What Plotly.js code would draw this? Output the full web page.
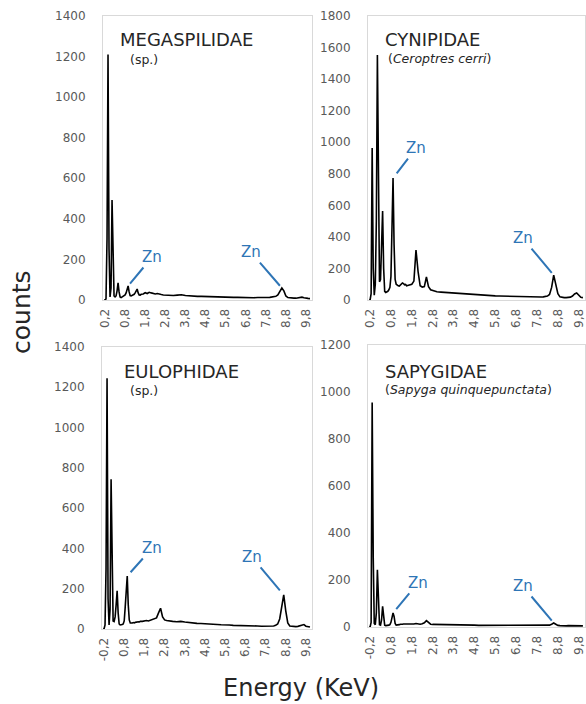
<!DOCTYPE html>
<html>
<head>
<meta charset="utf-8">
<script src="https://cdn.plot.ly/plotly-3.0.1.min.js"></script>
<style>
  html, body { margin: 0; padding: 0; background: #ffffff; }
  #chart { width: 586px; height: 704px; }
</style>
</head>
<body>
<div id="chart"></div>
<script>
// Energy channels (keV) shared by the four EDX spectra
const energyKeV = [
  -0.25, -0.2, -0.15, -0.1, -0.05, 0, 0.05, 0.1, 0.15, 0.2,
  0.25, 0.3, 0.35, 0.4, 0.45, 0.5, 0.55, 0.6, 0.65, 0.7,
  0.75, 0.8, 0.85, 0.9, 0.95, 1, 1.05, 1.1, 1.15, 1.2,
  1.25, 1.3, 1.35, 1.4, 1.45, 1.5, 1.55, 1.6,
  1.7, 1.8, 1.9, 2, 2.1, 2.2, 2.3, 2.4, 2.5, 2.6, 2.7, 2.8, 2.9, 3,
  3.2, 3.4, 3.6, 3.8, 4, 4.2, 4.4, 4.6, 4.8, 5, 5.2, 5.4, 5.6, 5.8, 6, 6.2, 6.4, 6.6, 6.8, 7, 7.2, 7.4, 7.6, 7.8, 8,
  8.1, 8.2, 8.3, 8.4, 8.5, 8.6, 8.7, 8.8, 8.9, 9, 9.1, 9.2, 9.3, 9.4, 9.5, 9.6, 9.7, 9.8, 9.9, 10
];

// Counts per channel
const megaspilidaeCounts = [
  0, 0, 5, 300, 1210, 250, 15, 60, 493, 260,
  20, 15, 20, 45, 84, 40, 15, 12, 15, 18,
  20, 25, 35, 55, 69, 40, 22, 20, 22, 25,
  28, 35, 50, 54, 35, 25, 24, 28,
  30, 36, 32, 38, 35, 33, 30, 32, 28, 27, 25, 24, 25, 23,
  22, 24, 26, 22, 20, 19, 18, 18, 17, 16, 16, 15, 15, 14, 14, 13, 13, 12, 12, 12, 11, 12, 11, 12, 13,
  14, 15, 18, 25, 42, 59, 45, 20, 12, 10, 10, 9, 9, 10, 12, 14, 11, 8, 8, 7
];
const cynipidaeCounts = [
  0, 0, 40, 963, 200, 30, 100, 500, 1553, 600,
  115, 130, 350, 564, 200, 55, 48, 50, 55, 65,
  80, 150, 450, 773, 350, 130, 100, 92, 90, 88,
  95, 100, 108, 104, 96, 98, 90, 92,
  95, 100, 120, 317, 180, 90, 82, 85, 146, 85, 65, 60, 56, 52,
  50, 48, 45, 42, 40, 38, 36, 35, 33, 30, 30, 28, 27, 26, 25, 24, 23, 22, 22, 21, 20, 20, 19, 19, 19,
  20, 22, 25, 35, 80, 158, 100, 40, 20, 16, 15, 15, 16, 18, 25, 38, 44, 28, 17, 15
];
const eulophidaeCounts = [
  0, 0, 20, 300, 1245, 150, 20, 100, 743, 250,
  40, 37, 60, 120, 190, 80, 25, 20, 20, 22,
  25, 40, 110, 230, 263, 120, 45, 30, 28, 30,
  32, 30, 33, 35, 34, 36, 35, 38,
  38, 40, 42, 40, 44, 45, 48, 55, 80, 103, 60, 45, 42, 40,
  38, 36, 38, 35, 32, 30, 28, 27, 25, 24, 23, 22, 21, 22, 20, 18, 18, 17, 16, 16, 15, 15, 14, 14, 14,
  14, 15, 18, 25, 50, 120, 169, 90, 30, 15, 13, 12, 12, 13, 15, 20, 22, 14, 11, 10
];
const sapygidaeCounts = [
  0, 0, 20, 955, 300, 15, 10, 60, 244, 100,
  10, 8, 30, 88, 40, 8, 6, 6, 7, 8,
  10, 20, 40, 60, 45, 15, 8, 8, 9, 10,
  12, 11, 12, 13, 12, 14, 13, 13,
  12, 14, 13, 15, 13, 12, 14, 18, 27, 18, 12, 11, 11, 10,
  10, 11, 10, 9, 9, 9, 8, 8, 8, 7, 7, 7, 7, 6, 6, 6, 6, 6, 5, 5, 5, 5, 5, 5, 5,
  5, 6, 6, 8, 12, 17, 12, 7, 6, 5, 5, 5, 6, 6, 7, 8, 7, 5, 5, 5
];

// Category-style tick labels along the energy axis
const tickValues = [-0.2, 0.8, 1.8, 2.8, 3.8, 4.8, 5.8, 6.8, 7.8, 8.8, 9.8];
const tickLabelsTop = ['0,2', '0,8', '1,8', '2,8', '3,8', '4,8', '5,8', '6,8', '7,8', '8,8', '9,8'];
const tickLabelsBottom = ['-0,2', '0,8', '1,8', '2,8', '3,8', '4,8', '5,8', '6,8', '7,8', '8,8', '9,8'];

const familyNames = ['MEGASPILIDAE', 'CYNIPIDAE', 'EULOPHIDAE', 'SAPYGIDAE'];
const speciesNames = ['(sp.)', '(<i>Ceroptres cerri</i>)', '(sp.)', '(<i>Sapyga quinquepunctata</i>)'];
const countsMax = [1400, 1800, 1400, 1200];
// Zn L and Zn K line channels marked in each spectrum
const znChannels = [[0.95, 8.6], [0.9, 8.6], [0.95, 8.7], [0.9, 8.6]];

const W = 586, H = 704;
const spectra = [megaspilidaeCounts, cynipidaeCounts, eulophidaeCounts, sapygidaeCounts];

// plot-area boxes in pixels: [left, right, top, bottom]
const boxes = [
  [103, 312, 16, 300],
  [368, 585, 16, 300],
  [102, 312, 347, 629],
  [368, 585, 345, 627]
];
// pixel offsets of each Zn label from its peak: [ax, ay, standoff]
const znOffsets = [
  [[24, -29, 3], [-31, -36, 3]],
  [[23, -30, 6], [-31, -37, 3]],
  [[25, -28, 5], [-32, -38, 6]],
  [[25, -30, 5], [-31, -37, 3]]
];
// title / subtitle anchor positions (px)
const titlePos = [[118, 39, 128, 60], [383, 39, 386, 58], [122, 371, 128, 390], [383, 371, 383, 389]];

const tickFont = { family: 'DejaVu Sans', size: 12, color: '#595959' };
const boxLine = '#d9d9d9';
const znBlue = '#2e75b6';

const traces = [];
const layout = {
  width: W, height: H,
  margin: { l: 0, r: 0, t: 0, b: 0 },
  paper_bgcolor: '#ffffff', plot_bgcolor: '#ffffff',
  showlegend: false,
  hovermode: false,
  font: { family: 'DejaVu Sans', color: '#262626' },
  annotations: []
};

spectra.forEach((counts, i) => {
  const n = i === 0 ? '' : String(i + 1);
  const [l, r, t, b] = boxes[i];
  traces.push({
    type: 'scatter', mode: 'lines',
    x: energyKeV, y: counts,
    xaxis: 'x' + n, yaxis: 'y' + n,
    line: { color: '#000000', width: 1.6 }
  });
  layout['xaxis' + n] = {
    domain: [l / W, r / W],
    anchor: 'y' + n,
    range: [-0.3, 10.1],
    tickmode: 'array', tickvals: tickValues,
    ticktext: i < 2 ? tickLabelsTop : tickLabelsBottom,
    tickangle: -90, tickfont: tickFont,
    ticks: '', ticklabelstandoff: 3,
    showline: true, mirror: true, linecolor: boxLine, linewidth: 1,
    showgrid: false, zeroline: false, automargin: false
  };
  layout['yaxis' + n] = {
    domain: [1 - b / H, 1 - t / H],
    anchor: 'x' + n,
    range: [0, countsMax[i]],
    tickmode: 'linear', tick0: 0, dtick: 200,
    tickfont: tickFont,
    ticks: '', ticklabelstandoff: 14,
    showline: true, mirror: true, linecolor: boxLine, linewidth: 1,
    showgrid: false, zeroline: false, automargin: false
  };

  // family name and species
  const [tx, ty, sx, sy] = titlePos[i];
  layout.annotations.push({
    xref: 'paper', yref: 'paper', x: tx / W, y: 1 - ty / H,
    xanchor: 'left', yanchor: 'middle', showarrow: false,
    text: familyNames[i], font: { family: 'DejaVu Sans', size: 18, color: '#262626' }
  });
  layout.annotations.push({
    xref: 'paper', yref: 'paper', x: sx / W, y: 1 - sy / H,
    xanchor: 'left', yanchor: 'middle', showarrow: false,
    text: speciesNames[i], font: { family: 'DejaVu Sans', size: 12.5, color: '#262626' }
  });

  // Zn markers pointing at the Zn L and Zn K peaks
  znChannels[i].forEach((e, k) => {
    const idx = energyKeV.findIndex(v => Math.abs(v - e) < 1e-6);
    const [ax, ay, so] = znOffsets[i][k];
    layout.annotations.push({
      xref: 'x' + n, yref: 'y' + n, x: e, y: counts[idx],
      text: 'Zn', showarrow: true, arrowhead: 0, arrowwidth: 2,
      arrowcolor: znBlue, ax: ax, ay: ay, standoff: so,
      font: { family: 'DejaVu Sans', size: 15, color: znBlue }
    });
  });
});

// shared axis titles
layout.annotations.push({
  xref: 'paper', yref: 'paper', x: 22 / W, y: 1 - 312 / H,
  xanchor: 'center', yanchor: 'middle', showarrow: false, textangle: -90,
  text: 'counts', font: { family: 'DejaVu Sans', size: 25, color: '#262626' }
});
layout.annotations.push({
  xref: 'paper', yref: 'paper', x: 301 / W, y: 1 - 688 / H,
  xanchor: 'center', yanchor: 'middle', showarrow: false,
  text: 'Energy (KeV)', font: { family: 'DejaVu Sans', size: 24, color: '#262626' }
});

Plotly.newPlot('chart', traces, layout, { displayModeBar: false, staticPlot: true });
</script>
</body>
</html>
